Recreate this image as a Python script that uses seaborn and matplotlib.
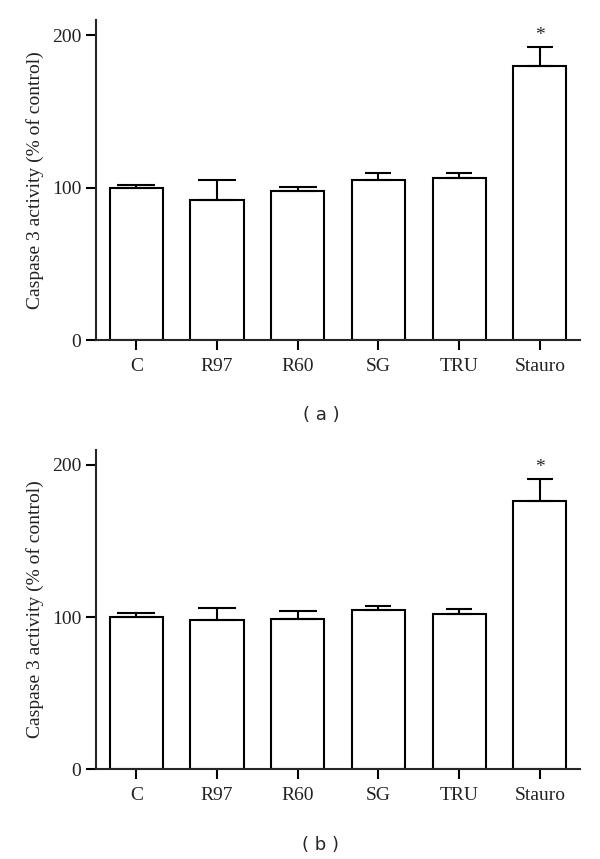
import matplotlib
matplotlib.use("Agg")
import matplotlib.pyplot as plt
import seaborn as sns
import pandas as pd

groups = ["C", "R97", "R60", "SG", "TRU", "Stauro"]

# panel (a)
mean_a = [100.0, 92.3, 97.6, 104.8, 106.1, 179.6]
err_a = [2.0, 12.5, 3.1, 4.6, 3.3, 13.0]

# panel (b)
mean_b = [100.0, 98.0, 98.9, 104.4, 102.2, 176.3]
err_b = [2.9, 7.7, 4.8, 3.1, 2.8, 14.5]

signif = ["", "", "", "", "", "*"]
panel_labels = ["( a )", "( b )"]

sns.set_style("ticks")
plt.rcParams['font.family'] = ['Liberation Serif', 'DejaVu Serif']

fig = plt.figure(figsize=(6, 8.59), dpi=100)
ax_a = fig.add_axes([0.16, 0.6038, 0.807, 0.3729])
ax_b = fig.add_axes([0.16, 0.1044, 0.807, 0.3723])

# cap widths differ in the original figure
caps = [14, 14, 14, 9.5, 9.5, 9.5]


def draw_panel(ax, means, errs, label, label_y):
    df = pd.DataFrame({"group": groups, "value": means})
    sns.barplot(data=df, x="group", y="value", color="white",
                edgecolor="black", linewidth=1.5, width=0.66, ax=ax)
    for i, (m, e) in enumerate(zip(means, errs)):
        ax.errorbar(i, m, yerr=[[0], [e]], fmt="none", ecolor="black",
                    elinewidth=1.5, capsize=caps[i], capthick=1.5)
        if signif[i]:
            ax.text(i, m + e + 1.5, signif[i], ha="center", va="bottom",
                    fontsize=14)
    ax.set_xlim(-0.5, 5.5)
    ax.set_ylim(0, 210)
    ax.set_yticks([0, 100, 200])
    ax.set_xlabel("")
    ax.set_ylabel("Caspase 3 activity (% of control)", fontsize=14,
                  labelpad=6, color="#222222")
    ax.tick_params(axis="both", direction="out", length=7, width=1.5,
                   labelsize=14, colors="black", labelcolor="#222222")
    ax.tick_params(axis="x", pad=6)
    for side in ["left", "bottom"]:
        ax.spines[side].set_linewidth(1.5)
    sns.despine(ax=ax)
    fig.text(0.535, label_y, label, ha="center", va="center",
             fontsize=13, family=["DejaVu Sans"])


draw_panel(ax_a, mean_a, err_a, panel_labels[0], 1 - 415 / 859)
draw_panel(ax_b, mean_b, err_b, panel_labels[1], 1 - 845 / 859)

fig.savefig("out.png", dpi=100)
